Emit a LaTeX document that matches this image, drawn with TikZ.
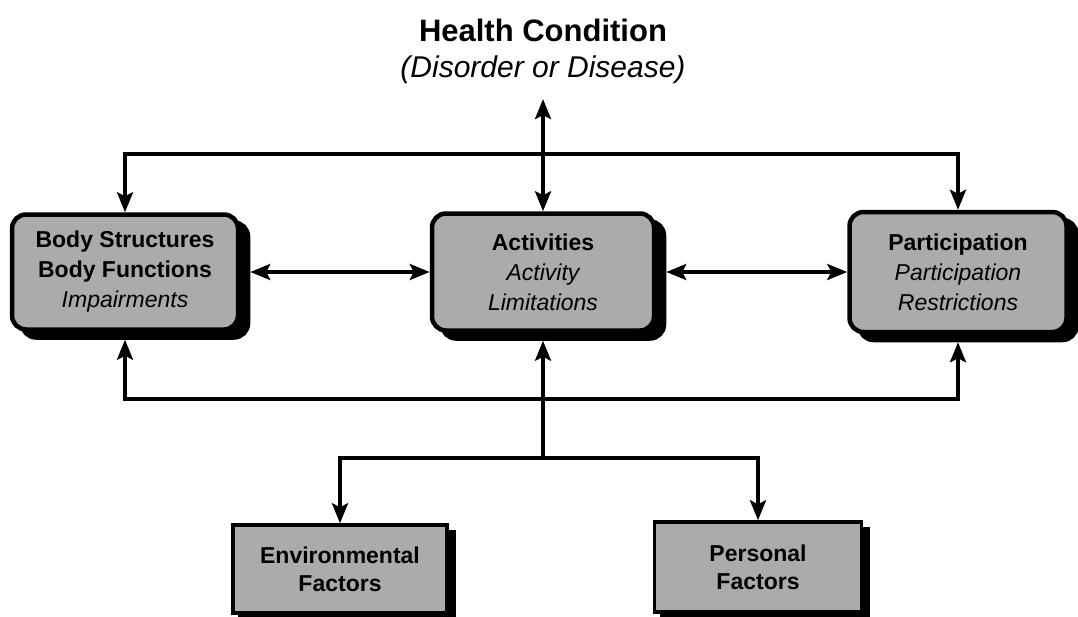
\documentclass[tikz,border=0pt]{standalone}
\usepackage{fontspec}
\setmainfont{Liberation Sans}
\usetikzlibrary{arrows.meta,shadows}

\tikzset{
  title/.style={anchor=north,inner sep=0pt,align=center,font=\fontsize{31}{36}\selectfont\bfseries},
  box/.style={draw=black,line width=4.5pt,rounded corners=14pt,fill=black!33,align=center,
    font=\fontsize{23}{30}\selectfont\bfseries,
    general shadow={fill=black,draw=black,shadow xshift=10pt,shadow yshift=-8pt}},
  factor/.style={draw=black,line width=3.5pt,fill=black!33,align=center,
    font=\fontsize{23}{28}\selectfont\bfseries,
    general shadow={fill=black,draw=black,shadow xshift=7pt,shadow yshift=-7pt}},
  link/.style={line width=3.5pt,{Stealth[length=20pt,width=16pt,inset=4pt]}-{Stealth[length=20pt,width=16pt,inset=4pt]}},
  tip/.style={line width=3.5pt,-{Stealth[length=20pt,width=16pt,inset=4pt]}}
}
\newcommand{\sub}[1]{{\mdseries\itshape #1}}

\begin{document}
\begin{tikzpicture}[x=1pt,y=-1pt]
\useasboundingbox (0,0) rectangle (1078,616);
% title
\node[title] (hc) at (543,19) {Health Condition\\{\fontsize{30}{36}\selectfont\sub{(Disorder or Disease)}}};
% main boxes
\node[box,minimum width=226pt,minimum height=115pt] (body) at (125,272) {Body Structures\\Body Functions\\\sub{Impairments}};
\node[box,minimum width=222pt,minimum height=117pt] (act) at (543,272) {Activities\\\sub{Activity}\\\sub{Limitations}};
\node[box,minimum width=217pt,minimum height=120pt] (part) at (958,272) {Participation\\\sub{Participation}\\\sub{Restrictions}};
% factors
\node[factor,minimum width=214pt,minimum height=88pt] (env) at (340,569) {Environmental\\Factors};
\node[factor,minimum width=207pt,minimum height=90pt] (pers) at (758,567) {Personal\\Factors};
% junctions
\coordinate (top) at (543,154);
\coordinate (bot) at (543,399);
\coordinate (fork) at (543,458);
% connectors
\draw[link,shorten <=15pt] (hc.south) -- (act.north);
\draw[link] (body.north) |- (top) -| (part.north);
\draw[link,shorten <=8pt,shorten >=8pt] (body.south) |- (bot) -| (part.south);
\draw[link,shorten <=10pt] (body.east) -- (act.west);
\draw[link,shorten <=10pt] (act.east) -- (part.west);
\draw[tip,shorten >=8pt] (fork) -- (act.south);
\draw[link] (env.north) |- (fork) -| (pers.north);
\end{tikzpicture}
\end{document}
